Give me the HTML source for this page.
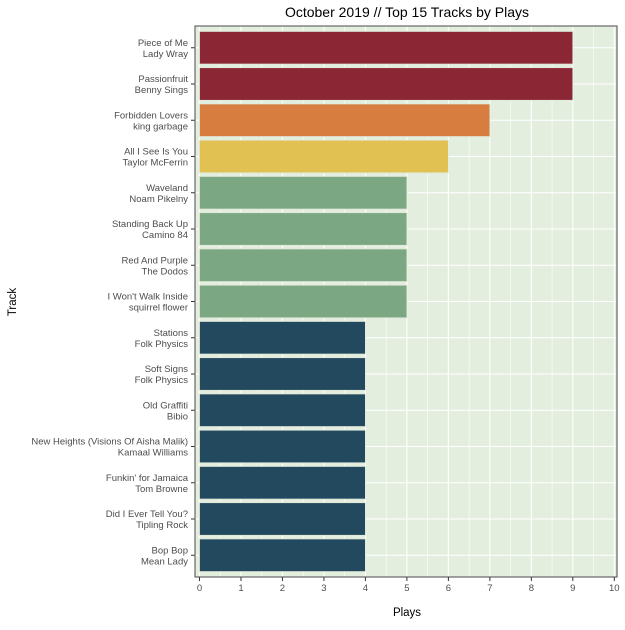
<!DOCTYPE html>
<html><head><meta charset="utf-8"><style>
body{margin:0;background:#fff;font-family:"Liberation Sans",sans-serif}
</style></head><body>
<svg id="c" width="625" height="625" xmlns="http://www.w3.org/2000/svg"></svg>
<script>
const tracks=["Piece of Me|Lady Wray","Passionfruit|Benny Sings","Forbidden Lovers|king garbage","All I See Is You|Taylor McFerrin","Waveland|Noam Pikelny","Standing Back Up|Camino 84","Red And Purple|The Dodos","I Won't Walk Inside|squirrel flower","Stations|Folk Physics","Soft Signs|Folk Physics","Old Graffiti|Bibio","New Heights (Visions Of Aisha Malik)|Kamaal Williams","Funkin' for Jamaica|Tom Browne","Did I Ever Tell You?|Tipling Rock","Bop Bop|Mean Lady"];
const plays=[9,9,7,6,5,5,5,5,4,4,4,4,4,4,4];
const xTicks=[0,1,2,3,4,5,6,7,8,9,10];
const colorByPlays={9:"#8B2635",7:"#D77D40",6:"#E2C153",5:"#7BA882",4:"#23495F"};
const svg=document.getElementById('c');const NS="http://www.w3.org/2000/svg";
const L=195,R=617,T=26,B=577,X0=199.5,X1=614.3;
const x=v=>X0+(X1-X0)*v/10;
const band=(B-T)/(tracks.length+0.2);
const yc=i=>T+band*0.6+i*band;
function mk(t,a,p){const e=document.createElementNS(NS,t);for(const k in a)e.setAttribute(k,a[k]);(p||svg).appendChild(e);return e;}
const panel=mk('rect',{x:L,y:T,width:R-L,height:B-T,fill:"#E4EEDF"});


for(let v=0;v<=10;v+=0.5){mk('line',{x1:x(v),x2:x(v),y1:T,y2:B,stroke:"#fff","stroke-width":v%1?0.6:1.1});}
tracks.forEach((t,i)=>{mk('line',{x1:L,x2:R,y1:yc(i),y2:yc(i),stroke:"#fff","stroke-width":1.1});});
tracks.forEach((t,i)=>{
 const r=mk('rect',{x:x(0),y:yc(i)-band*0.45,width:x(plays[i])-x(0),height:band*0.9,fill:colorByPlays[plays[i]]||"#23495F",stroke:"#dfe7d8","stroke-width":0.8});
 
 
 const [a,b]=t.split('|');
 const g=mk('text',{x:188,y:yc(i)-2,"text-anchor":"end","font-size":"9.5",fill:"#4d4d4d"});
 
 
 mk('tspan',{x:188,dy:0},g).textContent=a;
 mk('tspan',{x:188,dy:11},g).textContent=b;
 mk('line',{x1:191,x2:195,y1:yc(i),y2:yc(i),stroke:"#333"});
});
mk('rect',{x:L,y:T,width:R-L,height:B-T,fill:"none",stroke:"#666","stroke-width":1.2});
xTicks.forEach(v=>{
 mk('line',{x1:x(v),x2:x(v),y1:B,y2:B+4,stroke:"#333"});
 const t=mk('text',{x:x(v),y:B+14,"text-anchor":"middle","font-size":"9.5",fill:"#4d4d4d"});
 
 
 t.textContent=v;
});
let e=mk('text',{x:407,y:17,"text-anchor":"middle","font-size":"14",fill:"#000"});e.textContent="October 2019 // Top 15 Tracks by Plays";


e=mk('text',{x:407,y:616,"text-anchor":"middle","font-size":"11.5",fill:"#000"});e.textContent="Plays";


e=mk('text',{x:16,y:302,"text-anchor":"middle","font-size":"11.5",fill:"#000",transform:"rotate(-90 16 302)"});e.textContent="Track";


</script>
</body></html>
